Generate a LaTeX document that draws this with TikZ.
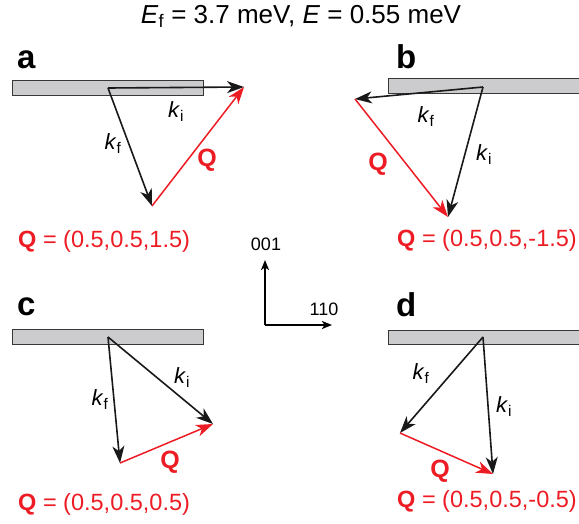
\documentclass[tikz,border=0pt]{standalone}
\usepackage{fontspec}
\setmainfont{Liberation Sans}
\usetikzlibrary{arrows.meta}
\definecolor{qred}{RGB}{237,28,36}
\definecolor{bargray}{RGB}{204,204,206}
\definecolor{bardraw}{RGB}{55,55,55}
\begin{document}
\begin{tikzpicture}[x=1pt,y=-1pt,
  vec/.style={line width=1.6pt, -{Stealth[length=17pt,width=12pt,inset=5pt]}},
  kvec/.style={vec, draw=black!90, fill=black!90},
  qvec/.style={vec, line width=1.5pt, draw=qred, fill=qred},
  bar/.style={fill=bargray, draw=bardraw, line width=0.8pt},
  panel/.style={font=\fontsize{33}{33}\selectfont\bfseries, anchor=base west, inner sep=0},
  qlab/.style={text=qred, font=\fontsize{25}{25}\selectfont\bfseries, inner sep=0},
  qeq/.style={text=qred, font=\fontsize{23.5}{24}\selectfont, anchor=base west, inner sep=0},
  klab/.style={font=\fontsize{22}{22}\selectfont, inner sep=0},
  axisvec/.style={line width=1.8pt, -{Stealth[length=10pt,width=8pt,inset=2.5pt]}},
  axlab/.style={font=\fontsize{18}{18}\selectfont, inner sep=0}
]
\useasboundingbox (0,0) rectangle (579,523);

% title
\node[anchor=base, font=\fontsize{26}{26}\selectfont, inner sep=0] (title) at (301,23)
  {\textit{E}\textsubscript{f} = 3.7 meV, \textit{E} = 0.55 meV};

% ---------- panel a ----------
\node[panel] (pa) at (17,68) {a};
\node[bar, minimum width=191pt, minimum height=15pt, inner sep=0] (bara) at (107.5,87.5) {};
\coordinate (aS) at (108,88);
\coordinate (aI) at (244,87);
\coordinate (aF) at (152,206);
\draw[kvec] (aS) -- (aI);
\draw[kvec] (aS) -- (aF);
\draw[qvec] (aF) -- (aI);
\node[klab] (aki) at (176,112) {\textit{k}\textsubscript{i}};
\node[klab] (akf) at (113,144) {\textit{k}\textsubscript{f}};
\node[qlab] (aq) at (207,160) {Q};
\node[qeq] (aeq) at (18,247) {\textbf{Q} = (0.5,0.5,1.5)};

% ---------- panel b ----------
\node[panel] (pb) at (396,68) {b};
\node[bar, minimum width=192pt, minimum height=15pt, inner sep=0] (barb) at (484,85.5) {};
\coordinate (bS) at (483,87);
\coordinate (bF) at (355,99);
\coordinate (bI) at (448,217);
\draw[kvec] (bS) -- (bF);
\draw[kvec] (bS) -- (bI);
\draw[qvec] (bF) -- (bI);
\node[klab] (bkf) at (426,117) {\textit{k}\textsubscript{f}};
\node[klab] (bki) at (484,155) {\textit{k}\textsubscript{i}};
\node[qlab] (bq) at (378,164) {Q};
\node[qeq] (beq) at (397,246) {\textbf{Q} = (0.5,0.5,-1.5)};

% ---------- panel c ----------
\node[panel] (pc) at (17,315) {c};
\node[bar, minimum width=191pt, minimum height=15pt, inner sep=0] (barc) at (107.5,336.5) {};
\coordinate (cS) at (108,337);
\coordinate (cF) at (120,463);
\coordinate (cI) at (213,424);
\draw[kvec] (cS) -- (cF);
\draw[kvec] (cS) -- (cI);
\draw[qvec] (cF) -- (cI);
\node[klab] (cki) at (182,378) {\textit{k}\textsubscript{i}};
\node[klab] (ckf) at (100,400) {\textit{k}\textsubscript{f}};
\node[qlab] (cq) at (170,462) {Q};
\node[qeq] (ceq) at (18,510) {\textbf{Q} = (0.5,0.5,0.5)};

% ---------- panel d ----------
\node[panel] (pd) at (396,316) {d};
\node[bar, minimum width=192pt, minimum height=14pt, inner sep=0] (bard) at (484,337) {};
\coordinate (dS) at (483,337);
\coordinate (dF) at (400,433);
\coordinate (dI) at (493,474);
\draw[kvec] (dS) -- (dF);
\draw[kvec] (dS) -- (dI);
\draw[qvec] (dF) -- (dI);
\node[klab] (dkf) at (421,374) {\textit{k}\textsubscript{f}};
\node[klab] (dki) at (504,407) {\textit{k}\textsubscript{i}};
\node[qlab] (dq) at (440,471) {Q};
\node[qeq] (deq) at (397,507) {\textbf{Q} = (0.5,0.5,-0.5)};

% ---------- axes ----------
\coordinate (O) at (265,325);
\coordinate (ax001) at (265,260);
\coordinate (ax110) at (332,325);
\draw[axisvec] (O) -- (ax001);
\draw[axisvec] (O) -- (ax110);
\node[axlab] (l001) at (266,244) {001};
\node[axlab] (l110) at (324,309) {110};
\end{tikzpicture}
\end{document}
